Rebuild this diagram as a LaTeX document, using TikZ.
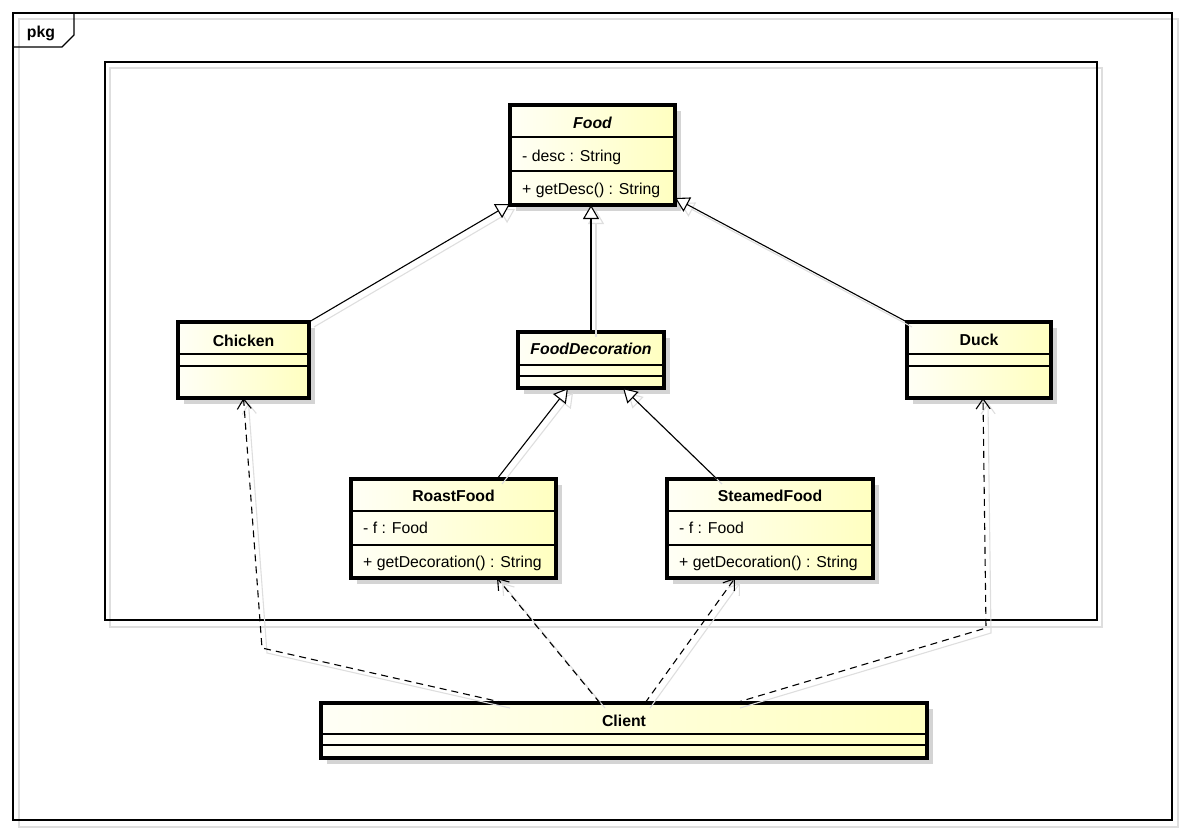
\documentclass[tikz,border=0pt]{standalone}
\usepackage{fontspec}
\setmainfont{Liberation Sans}
\usetikzlibrary{arrows.meta,shadows,calc}

\definecolor{classlight}{RGB}{255,255,246}
\definecolor{classdark}{RGB}{255,255,192}
\definecolor{boxshadow}{RGB}{212,212,212}
\definecolor{lineshadow}{RGB}{222,222,222}

\newcommand{\umlfont}{\fontsize{15.8}{18}\selectfont}

\tikzset{
	classbox/.style={draw, line width=3.3pt, anchor=north west, inner sep=0pt, outer sep=0pt,
		left color=classlight, right color=classdark,
		drop shadow={shadow xshift=6pt, shadow yshift=-6pt, fill=boxshadow, opacity=1}},
	compart/.style={line width=1.4pt},
	frame/.style={line width=1.4pt},
	frameshadow/.style={line width=1.4pt, draw=lineshadow},
	cname/.style={font=\umlfont\bfseries, anchor=base, inner sep=0pt},
	aname/.style={font=\umlfont\bfseries\itshape, anchor=base, inner sep=0pt},
	member/.style={font=\umlfont, anchor=base west, inner sep=0pt},
	gen/.style={line width=1.1pt, -{Triangle[open, length=14pt, width=16pt, fill=white]}},
	dep/.style={line width=1.1pt, dash pattern=on 7pt off 5pt, -{Straight Barb[length=10pt, width=14pt]}},
	shadowlayer/.style={transform canvas={shift={(5pt,-5pt)}}, color=lineshadow, dep/.append style={solid}}
}

% generalizations and dependencies
\newcommand{\drawlinks}{
	\draw[gen] (chicken.north east) -- ([yshift=1pt]food.south west);
	\draw[gen] (fooddeco.north) -- (fooddeco.north |- food.south);
	\draw[gen] (duck.north west) -- ([yshift=7pt]food.south east);
	\draw[gen] ([xshift=43.5pt]roast.north) -- ([xshift=-23pt]fooddeco.south);
	\draw[gen] ([xshift=-53pt]steamed.north) -- ([xshift=32pt]fooddeco.south);
	\draw[dep] ([xshift=-119pt]client.north) -- (bendL) -- (chicken.south);
	\draw[dep] ([xshift=-24pt]client.north) -- ([xshift=43.5pt]roast.south);
	\draw[dep] ([xshift=21pt]client.north) -- ([xshift=-35pt]steamed.south);
	\draw[dep] ([xshift=111pt]client.north) -- (bendR) -- ([xshift=4pt]duck.south);
}

\begin{document}
\begin{tikzpicture}[x=1pt, y=-1pt]
	\useasboundingbox (0,0) rectangle (1185,833);

	% package frames
	\draw[frameshadow] (19,19) rectangle (1178,827);
	\draw[frame] (13,13) rectangle (1172,820);
	\draw[frame] (13,47) -- (62,47) -- (74,35) -- (74,13);
	\node[cname] (pkg) at (41,37) {pkg};
	\draw[frameshadow] (110,68) rectangle (1102,627);
	\draw[frame] (105,62) rectangle (1097,620);

	% classes
	\foreach \boxname/\bx/\by/\bw/\bh/\sa/\sb in {
		food/510/105/165/100/32/66,
		chicken/178/322/131/76/32/44,
		fooddeco/518/332/146/56/33/44,
		duck/907/322/144/76/32/44,
		roast/351/479/205/99/32/66,
		steamed/667/479/206/99/32/66,
		client/321/703/606/55/31/42}
	{
		\node[classbox, minimum width=\bw, minimum height=\bh] (\boxname) at (\bx,\by) {};
		\draw[compart] ([yshift=-\sa]\boxname.north west) -- ([yshift=-\sa]\boxname.north east);
		\draw[compart] ([yshift=-\sb]\boxname.north west) -- ([yshift=-\sb]\boxname.north east);
	}

	\node[aname] (foodtitle) at ([yshift=-23pt]food.north) {Food};
	\node[member] (fooddesc) at ([shift={(12pt,-56pt)}]food.north west) {- desc : String};
	\node[member] (foodget) at ([shift={(12pt,-89pt)}]food.north west) {+ getDesc() : String};

	\node[cname] (chickentitle) at ([yshift=-24pt]chicken.north) {Chicken};
	\node[aname] (fooddecotitle) at ([yshift=-22pt]fooddeco.north) {FoodDecoration};
	\node[cname] (ducktitle) at ([yshift=-23pt]duck.north) {Duck};

	\node[cname] (roasttitle) at ([yshift=-22pt]roast.north) {RoastFood};
	\node[member] (roastf) at ([shift={(12pt,-54pt)}]roast.north west) {- f : Food};
	\node[member] (roastget) at ([shift={(12pt,-88pt)}]roast.north west) {+ getDecoration() : String};

	\node[cname] (steamedtitle) at ([yshift=-22pt]steamed.north) {SteamedFood};
	\node[member] (steamedf) at ([shift={(12pt,-54pt)}]steamed.north west) {- f : Food};
	\node[member] (steamedget) at ([shift={(12pt,-88pt)}]steamed.north west) {+ getDecoration() : String};

	\node[cname] (clienttitle) at ([yshift=-23pt]client.north) {Client};

	% bend points of the dependencies
	\coordinate (bendL) at (262,648);
	\coordinate (bendR) at (986,628);

	\begin{scope}[shadowlayer]
		\drawlinks
	\end{scope}
	\drawlinks

\end{tikzpicture}
\end{document}
